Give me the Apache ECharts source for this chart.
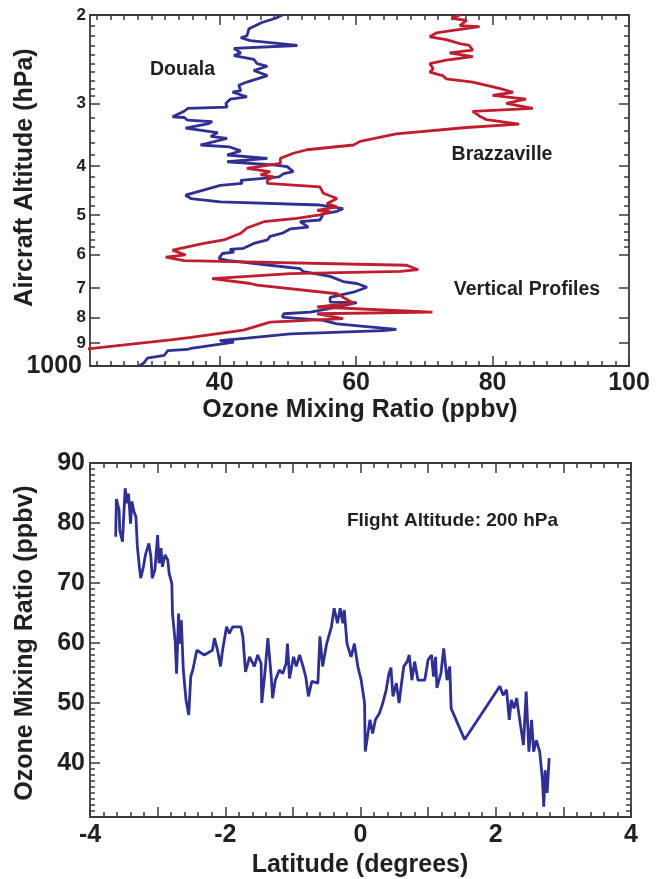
<!DOCTYPE html>
<html><head><meta charset="utf-8">
<script src="https://cdn.jsdelivr.net/npm/echarts@6/dist/echarts.min.js"></script>
<style>html,body{margin:0;padding:0;background:#fff}#chart{width:663px;height:879px}</style>
</head><body><div id="chart"></div>
<script>
// ---------------- DATA ----------------
// Top panel: vertical profiles (pressure hPa, ozone ppbv)
const doualaPressure = [200,203,207,213,220,222,225,230,233,238,241,245,250,253,258,264,268,272,276,283,285,291,294,300,305,307,311,319,320,324,326,329,336,343,349,352,363,366,373,380,386,392,398,401,410,414,420,427,433,437,440,457,464,471,478,486,492,498,512,516,529,533,544,552,561,570,583,586,593,597,611,616,630,640,649,663,679,685,697,713,730,746,748,752,763,781,787,799,811,824,845,850,863,880,890,896,905,922,927,932,952,965,986,1000];
const doualaOzone = [49.2,48.2,46.2,44.3,44.0,43.1,44.5,51.4,42.1,43.1,42.1,45.0,45.5,47.0,45.0,47.0,45.5,44.0,42.8,43.1,41.9,44.0,41.6,40.9,41.1,35.3,34.8,33.1,34.8,35.3,38.9,38.4,35.0,39.7,38.7,41.1,37.2,41.4,43.1,41.1,47.0,41.1,48.2,49.9,50.8,49.4,48.7,43.1,43.3,40.1,39.9,35.0,35.8,40.1,54.7,58.1,57.2,55.2,54.7,51.8,53.0,50.4,49.2,47.4,47.0,45.0,43.5,41.5,42.1,40.4,39.9,41.1,47.4,51.8,52.3,56.2,58.1,60.1,61.6,59.6,56.2,56.2,60.1,60.1,57.2,53.3,49.4,49.2,55.2,57.2,65.9,64.0,50.4,44.0,40.0,42.1,40.1,35.8,35.3,32.4,31.9,29.4,28.9,28.2];
const brazzavillePressure = [200,203,205,210,211,215,217,221,224,228,230,235,238,242,246,250,256,260,264,268,272,280,285,289,294,300,307,311,318,323,330,335,345,357,363,371,377,386,395,404,410,416,420,427,433,440,453,464,475,482,490,493,500,508,516,531,544,561,570,579,588,601,607,617,630,643,648,655,670,685,690,718,750,763,781,787,805,818,848,877,887,925];
const brazzavilleOzone = [75.2,74.0,76.2,75.2,78.1,73.7,71.8,70.8,73.2,75.2,76.6,77.1,73.7,77.1,73.2,70.8,71.3,70.8,72.7,73.2,77.1,81.0,83.0,80.0,84.9,82.0,85.9,77.1,78.1,79.1,83.9,76.2,65.9,60.6,59.6,52.8,50.8,48.9,48.9,44.0,47.4,46.0,47.9,47.0,47.0,54.7,55.2,57.2,55.7,57.2,54.3,56.2,54.7,51.3,46.5,44.0,43.1,40.6,37.7,35.3,33.1,35.0,32.1,34.8,67.4,69.1,66.5,50.4,38.9,44.5,45.5,57.2,59.6,54.3,71.2,54.3,58.1,47.4,43.5,35.8,32.8,20.5];
// Bottom panel: flight at 200 hPa (latitude degrees, ozone ppbv)
const flightLatitude = [-3.62,-3.61,-3.57,-3.56,-3.52,-3.48,-3.45,-3.43,-3.40,-3.38,-3.35,-3.32,-3.30,-3.27,-3.25,-3.21,-3.18,-3.13,-3.10,-3.08,-3.04,-3.00,-2.98,-2.95,-2.93,-2.89,-2.85,-2.83,-2.79,-2.78,-2.74,-2.72,-2.69,-2.67,-2.65,-2.62,-2.58,-2.54,-2.51,-2.48,-2.44,-2.42,-2.31,-2.19,-2.16,-2.11,-2.07,-2.04,-1.98,-1.94,-1.89,-1.77,-1.74,-1.70,-1.64,-1.57,-1.52,-1.47,-1.46,-1.41,-1.37,-1.32,-1.30,-1.26,-1.20,-1.15,-1.10,-1.08,-1.05,-0.99,-0.95,-0.90,-0.85,-0.81,-0.77,-0.72,-0.63,-0.60,-0.56,-0.50,-0.43,-0.39,-0.34,-0.30,-0.26,-0.24,-0.20,-0.14,-0.09,-0.04,0.01,0.06,0.07,0.11,0.14,0.18,0.22,0.28,0.33,0.38,0.42,0.45,0.48,0.53,0.57,0.60,0.64,0.69,0.72,0.76,0.80,0.85,0.95,1.00,1.05,1.08,1.11,1.13,1.19,1.23,1.28,1.32,1.34,1.54,2.06,2.11,2.16,2.20,2.23,2.27,2.31,2.33,2.37,2.41,2.45,2.49,2.53,2.56,2.60,2.65,2.69,2.71,2.73,2.76,2.79];
const flightOzone = [77.7,84.0,82.2,78.8,76.9,85.8,83.3,84.9,79.9,83.6,81.9,81.0,76.1,72.7,70.8,72.7,74.7,76.6,74.4,70.8,72.2,78.0,73.3,75.8,72.7,74.7,73.8,71.6,69.9,64.9,60.2,54.9,64.9,59.9,63.8,55.5,50.5,48.0,54.4,55.5,57.7,58.8,58.0,58.8,60.8,58.6,56.1,58.8,62.7,61.6,62.7,62.7,61.1,55.2,57.7,56.1,58.0,56.6,50.0,55.5,60.8,54.4,50.8,53.8,55.5,54.9,56.6,59.9,54.1,57.7,56.1,58.0,56.1,54.4,51.1,53.6,53.3,61.1,56.1,59.9,62.7,65.8,63.3,65.8,63.3,65.5,59.9,57.7,59.9,56.1,53.8,50.0,41.9,44.9,47.2,44.9,47.2,48.3,50.0,52.2,54.9,55.9,51.1,53.3,50.0,52.7,56.1,56.9,58.0,53.8,56.9,53.8,53.8,57.2,58.0,54.4,57.7,52.5,55.0,59.1,53.8,56.1,49.1,43.9,52.8,51.3,52.2,47.2,50.5,49.1,50.8,49.1,46.0,43.0,51.9,41.9,47.2,41.9,43.8,41.9,37.2,32.7,38.8,35.0,40.8];
// Tick values
const profileOzoneLabels = [40,60,80,100];
const profileOzoneMinor = []; for (let v = 22; v <= 98; v += 2) profileOzoneMinor.push(v);
const pressureLabels = [200,300,400,500,600,700,800,900,1000];
const pressureMinor = [210,220,230,240,250,260,270,280,290,320,340,360,380,420,440,460,480,520,540,560,580];
const latitudeLabels = [-4,-2,0,2,4];
const latitudeMajor = [-4,-3,-2,-1,0,1,2,3,4];
const latitudeMinor = []; for (let i = -20; i <= 20; i++) latitudeMinor.push(i / 5);
const mixingLabels = [40,50,60,70,80,90];
const mixingMinor = []; for (let v = 31; v <= 90; v++) mixingMinor.push(v);

// ---------------- STYLE ----------------
const FONT = "'Liberation Sans', Arial, Helvetica, sans-serif";
const TXT = '#231f20';
const AX = '#3a3a3a';
const BLUE = '#2e3192';
const RED = '#be1e2d';

function axisSet(grid, sides, cfg) {
  const list = [];
  sides.forEach((pos, si) => {
    [['major', 10], ['minor', 5]].forEach(([kind, len]) => {
      const withLabel = si === 0 && kind === 'major';
      list.push({
        gridIndex: grid, type: cfg.type || 'value', logBase: 10,
        min: cfg.min, max: cfg.max, inverse: !!cfg.inverse, position: pos,
        axisLine: {show: kind === 'major', onZero: false, lineStyle: {color: AX, width: 1.8}},
        axisTick: {show: true, inside: true, length: len,
          customValues: kind === 'major' ? cfg.major : cfg.minor,
          lineStyle: {color: AX, width: 1.5}},
        axisLabel: withLabel ? Object.assign({show: true, customValues: cfg.labels,
          fontFamily: FONT, fontWeight: 'bold', color: TXT}, cfg.label) : {show: false},
        splitLine: {show: false}, minorTick: {show: false}, minorSplitLine: {show: false},
        axisPointer: {show: false}, silent: true
      });
    });
  });
  return list;
}

const xAxes = [].concat(
  axisSet(0, ['bottom', 'top'], {min: 21, max: 100, major: profileOzoneLabels, minor: profileOzoneMinor,
    labels: profileOzoneLabels, label: {fontSize: 25, margin: 5}}),
  axisSet(1, ['bottom', 'top'], {min: -4, max: 4, major: latitudeMajor, minor: latitudeMinor,
    labels: latitudeLabels, label: {fontSize: 25, margin: 6}})
);
const yAxes = [].concat(
  axisSet(0, ['left', 'right'], {type: 'log', min: 200, max: 1000, inverse: true,
    major: pressureLabels, minor: pressureMinor, labels: pressureLabels,
    label: {fontSize: 17, margin: 4,
      formatter: function (v) { const p = Math.round(v); return p === 1000 ? '{big|1000}' : String(p / 100); },
      rich: {big: {fontSize: 25, fontWeight: 'bold', fontFamily: FONT, color: TXT, padding: [0, 4, 0, 0]}}}}),
  axisSet(1, ['left', 'right'], {min: 31, max: 90, major: mixingLabels, minor: mixingMinor,
    labels: mixingLabels, label: {fontSize: 25, margin: 5}})
);

function txt(text, x, y, size, rot) {
  return {type: 'text', x: x, y: y, rotation: rot || 0, silent: true,
    style: {text: text, fill: TXT, font: 'bold ' + size + 'px ' + FONT, align: 'center', verticalAlign: 'middle'}};
}

const chart = echarts.init(document.getElementById('chart'), null, {renderer: 'canvas'});
chart.setOption({
  animation: false,
  backgroundColor: '#fff',
  grid: [
    {left: 90, right: 34, top: 15, height: 351},
    {left: 90, right: 32, top: 463, height: 354}
  ],
  xAxis: xAxes,
  yAxis: yAxes,
  graphic: [
    txt('Douala', 182.5, 70, 19.5),
    txt('Brazzaville', 502, 155, 19.5),
    txt('Vertical Profiles', 527, 289.5, 19.5),
    txt('Flight Altitude: 200 hPa', 452.5, 521, 19),
    txt('Ozone Mixing Ratio (ppbv)', 360, 410, 25),
    txt('Latitude (degrees)', 360, 865, 25),
    txt('Aircraft Altitude (hPa)', 25, 177.5, 25, Math.PI / 2),
    txt('Ozone Mixing Ratio (ppbv)', 25, 643, 25, Math.PI / 2)
  ],
  series: [
    {name: 'Douala', type: 'line', xAxisIndex: 0, yAxisIndex: 0, showSymbol: false, symbol: 'none', clip: true,
      data: doualaOzone.map((o, i) => [o, doualaPressure[i]]), lineStyle: {color: BLUE, width: 2.8}},
    {name: 'Brazzaville', type: 'line', xAxisIndex: 0, yAxisIndex: 0, showSymbol: false, symbol: 'none', clip: true,
      data: brazzavilleOzone.map((o, i) => [o, brazzavillePressure[i]]), lineStyle: {color: RED, width: 2.8}},
    {name: 'Flight 200 hPa', type: 'line', xAxisIndex: 4, yAxisIndex: 4, showSymbol: false, symbol: 'none', clip: true,
      data: flightOzone.map((o, i) => [flightLatitude[i], o]), lineStyle: {color: BLUE, width: 2.8}}
  ]
});
</script>
</body></html>
